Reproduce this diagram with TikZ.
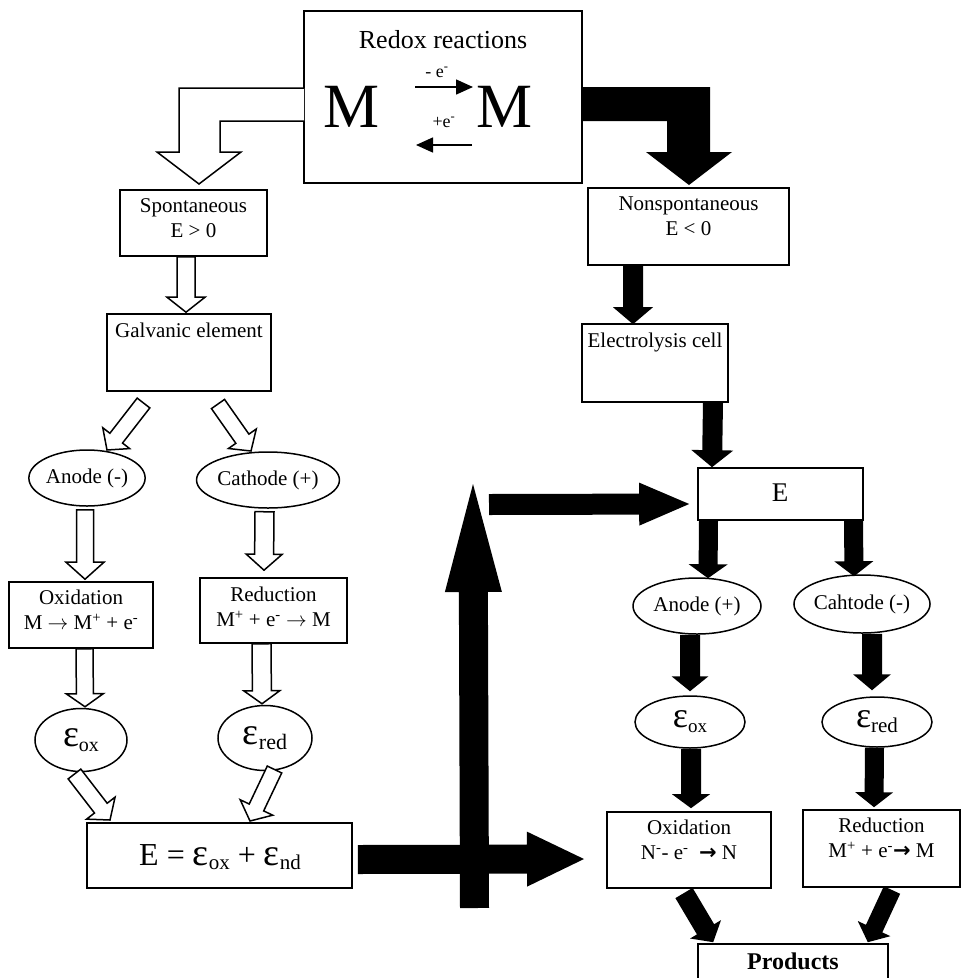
\documentclass[tikz,border=0pt]{standalone}
\usepackage{fontspec}
\setmainfont{Liberation Serif}
\newfontfamily\dejavu{DejaVu Sans}
\usetikzlibrary{calc,shapes.geometric,arrows.meta}

\newcommand\fs[1]{\fontsize{#1}{#1}\selectfont}
\newcommand\fsb[2]{\fontsize{#1}{#2}\selectfont}
% epsilon with a lowered index: eps size, index size, drop, index text
\newcommand\epsx[4]{{\fs{#1}ε}\raisebox{-#3pt}{\fs{#2}#4}}
\newcommand\heavyto{{\dejavu\bfseries →}}
\newcommand\thinto{$\rightarrow$}

% block arrow: style, start, tip, shaft half width, head half width, head length
\newcommand\blockarrow[6]{%
  \coordinate (ba-s) at #2;
  \coordinate (ba-t) at #3;
  \coordinate (ba-b) at ($(ba-t)!#6!(ba-s)$);
  \path[#1] ($(ba-s)!#4!90:(ba-t)$) -- ($(ba-b)!#4!90:(ba-t)$)
    -- ($(ba-b)!#5!90:(ba-t)$) -- (ba-t) -- ($(ba-b)!#5!-90:(ba-t)$)
    -- ($(ba-b)!#4!-90:(ba-t)$) -- ($(ba-s)!#4!-90:(ba-t)$) -- cycle;
}

\tikzset{
  box/.style={draw, rectangle, line width=1.6pt, inner sep=0pt},
  oval/.style={draw, ellipse, line width=1.5pt, inner sep=0pt},
  openarr/.style={draw, fill=white, line width=1.5pt, line join=miter},
  fullarr/.style={fill=black},
  txt/.style={inner sep=0pt, align=center, font=\fsb{21}{25}},
}

\begin{document}
\begin{tikzpicture}[x=1pt, y=-1pt]
\useasboundingbox (0,0) rectangle (963,978);
\fill[white] (0,0) rectangle (963,978);

% ---------- top box ----------
\node[box, minimum width=278pt, minimum height=172pt] (redox) at (443,97) {};
\node[inner sep=0pt, font=\fs{26}] (redox-t) at (443,40) {Redox reactions};
\node[inner sep=0pt, anchor=base, font=\fs{63}] (m1) at (352,127) {M};
\node[inner sep=0pt, anchor=base, font=\fs{63}] (m2) at (505,127) {M};
\coordinate (fw-a) at (415,87);  \coordinate (fw-b) at (473,87);
\coordinate (bw-a) at (472,145); \coordinate (bw-b) at (416,145);
\draw[line width=1.5pt, -{Triangle[length=17pt,width=15pt]}] (fw-a) -- (fw-b);
\draw[line width=1.5pt, -{Triangle[length=17pt,width=15pt]}] (bw-a) -- (bw-b);
\node[inner sep=0pt, anchor=base, font=\fs{18}] (lose) at (437,77) {- e\textsuperscript{-}};
\node[inner sep=0pt, anchor=base, font=\fs{18}] (gain) at (444,127) {+e\textsuperscript{-}};

% bent arrows leaving the top box
\draw[openarr] (304,88) -- (179,88) -- (179,152) -- (157,152) -- (199,184)
  -- (241,152) -- (220,152) -- (220,121) -- (304,121);
\fill (583,87) -- (710,87) -- (710,152) -- (732,152) -- (689,185)
  -- (646,152) -- (667,152) -- (667,121) -- (583,121) -- cycle;

% ---------- left branch (galvanic) ----------
\node[box, minimum width=147pt, minimum height=66pt] (spont) at (193.5,223) {};
\node[txt] (spont-t) at (193.5,218) {Spontaneous\\E > 0};
\node[box, minimum width=164pt, minimum height=77pt] (galv) at (189,352.5) {};
\node[txt] (galv-t) at (189,330) {Galvanic element};

\node[oval, minimum width=110pt, minimum height=56pt, font=\fs{21}] (anL) at (87,478) {Anode (-)};
\node[oval, minimum width=128pt, minimum height=56pt, font=\fs{21}] (caL) at (268,480) {Cathode (+)};

\node[box, minimum width=144pt, minimum height=66pt] (oxL) at (81,615) {};
\node[txt] (oxL-t) at (81,610) {Oxidation\\M \thinto\ M\textsuperscript{+} + e\textsuperscript{-}};
\node[box, minimum width=147pt, minimum height=65pt] (redL) at (273.5,610.5) {};
\node[txt] (redL-t) at (273.5,607) {Reduction\\M\textsuperscript{+} + e\textsuperscript{-} \thinto\ M};

\node[oval, minimum width=92pt, minimum height=63pt] (eoxL) at (81,740) {\epsx{38}{20}{5}{ox}};
\node[oval, minimum width=94pt, minimum height=65pt] (eredL) at (265,738) {\epsx{38}{22}{5}{red}};

\node[box, minimum width=265pt, minimum height=65pt] (sum) at (219.5,855.5) {};
\node[inner sep=0pt] (sum-t) at (220,857) {\fs{32}E = \epsx{38}{21}{4}{ox} + \epsx{38}{21}{4}{nd}};

\blockarrow{openarr}{($(spont.south)+(-7.5,0)$)}{($(galv.north)+(-3,-1)$)}{9pt}{19pt}{15pt}
\blockarrow{openarr}{(143.5,403)}{(107,450)}{8pt}{17pt}{15pt}
\blockarrow{openarr}{(218,404)}{(251,451)}{8pt}{17pt}{15pt}
\blockarrow{openarr}{($(anL.south)+(-2,3)$)}{($(oxL.north)+(4,-2)$)}{8.5pt}{19pt}{17pt}
\blockarrow{openarr}{($(caL.south)+(-3.5,3)$)}{($(redL.north)+(-9.5,-7)$)}{9.5pt}{18pt}{16pt}
\blockarrow{openarr}{($(oxL.south)+(3.5,0)$)}{($(eoxL.north)+(4,-1)$)}{8.5pt}{18.5pt}{13pt}
\blockarrow{openarr}{($(redL.south)+(-12,0)$)}{($(eredL.north)+(-3,-1)$)}{9.5pt}{18pt}{13pt}
\blockarrow{openarr}{(74.5,774)}{(110,820)}{8pt}{18pt}{15pt}
\blockarrow{openarr}{(274.5,769.5)}{(250,821)}{8pt}{18pt}{15pt}

% ---------- right branch (electrolysis) ----------
\node[box, minimum width=201pt, minimum height=77pt] (nonsp) at (688.5,226.5) {};
\node[txt] (nonsp-t) at (688.5,216) {Nonspontaneous\\E < 0};
\node[box, minimum width=146pt, minimum height=78pt] (elec) at (655,363) {};
\node[txt] (elec-t) at (655,342) {Electrolysis cell};
\node[box, minimum width=165pt, minimum height=52pt] (ebox) at (780.5,494) {};
\node[inner sep=0pt, font=\fs{27}] (ebox-t) at (780,493) {E};

\node[oval, minimum width=128pt, minimum height=56pt, font=\fs{21}] (anR) at (697,606) {Anode (+)};
\node[oval, minimum width=128pt, minimum height=58pt, font=\fs{21}] (caR) at (862,604) {Cahtode (-)};
\node[oval, minimum width=110pt, minimum height=52pt] (eoxR) at (690,722) {\epsx{36}{19}{5}{ox}};
\node[oval, minimum width=110pt, minimum height=50pt] (eredR) at (877,722) {\epsx{36}{21}{5}{red}};

\node[box, minimum width=164pt, minimum height=76pt] (oxR) at (689,850) {};
\node[txt] (oxR-t) at (689,840) {Oxidation\\N\textsuperscript{-}- e\textsuperscript{-}\ \ \heavyto\ N};
\node[box, minimum width=157pt, minimum height=77pt] (redR) at (881.5,848.5) {};
\node[txt] (redR-t) at (881.5,838) {Reduction\\M\textsuperscript{+} + e\textsuperscript{-}\heavyto\ M};
\node[box, minimum width=190pt, minimum height=66pt] (prod) at (793,977) {};
\node[inner sep=0pt, font=\fs{24}\bfseries] (prod-t) at (793,961) {Products};

\blockarrow{fullarr}{($(nonsp.south)+(-55.5,0)$)}{($(elec.north)+(-22,1)$)}{10pt}{20pt}{17pt}
\blockarrow{fullarr}{($(elec.south)+(58,0)$)}{($(ebox.north)+(-68.5,0)$)}{10pt}{21pt}{17pt}
\blockarrow{fullarr}{($(ebox.south)+(-72,0)$)}{($(anR.north)+(11,1)$)}{9.5pt}{19.5pt}{14pt}
\blockarrow{fullarr}{($(ebox.south)+(73,0)$)}{($(caR.north)+(-8,2)$)}{9.5pt}{19.5pt}{15pt}
\blockarrow{fullarr}{($(anR.south)+(-7,0)$)}{($(eoxR.north)+(0,-4)$)}{10pt}{18.5pt}{15pt}
\blockarrow{fullarr}{($(caR.south)+(10,0)$)}{($(eredR.north)+(-5,-6)$)}{10pt}{19pt}{16pt}
\blockarrow{fullarr}{($(eoxR.south)+(1,0)$)}{($(oxR.north)+(2,-3)$)}{10pt}{19pt}{14pt}
\blockarrow{fullarr}{($(eredR.south)+(-2.5,0)$)}{($(redR.north)+(-7.5,-2)$)}{9.5pt}{19pt}{15pt}
\blockarrow{fullarr}{(684,893)}{($(prod.north west)+(16,-1)$)}{10pt}{18pt}{15pt}
\blockarrow{fullarr}{(892,890)}{($(prod.north east)+(-21,-1)$)}{9pt}{18pt}{15pt}

% ---------- link from the sum to the electrolysis E ----------
\coordinate (riser-foot) at (474.5,908);
\coordinate (riser-top) at (473,484);
\coordinate (feed-start) at (489,504.5);
\coordinate (sum-out) at (584,859);
\blockarrow{fullarr}{($(sum.east)+(5,4)$)}{(sum-out)}{14.5pt}{27.5pt}{57pt}
\blockarrow{fullarr}{(riser-foot)}{(riser-top)}{14.5pt}{28.5pt}{108pt}
\blockarrow{fullarr}{(feed-start)}{($(ebox.west)+(-8,10)$)}{10.5pt}{21.5pt}{50pt}
\end{tikzpicture}
\end{document}
